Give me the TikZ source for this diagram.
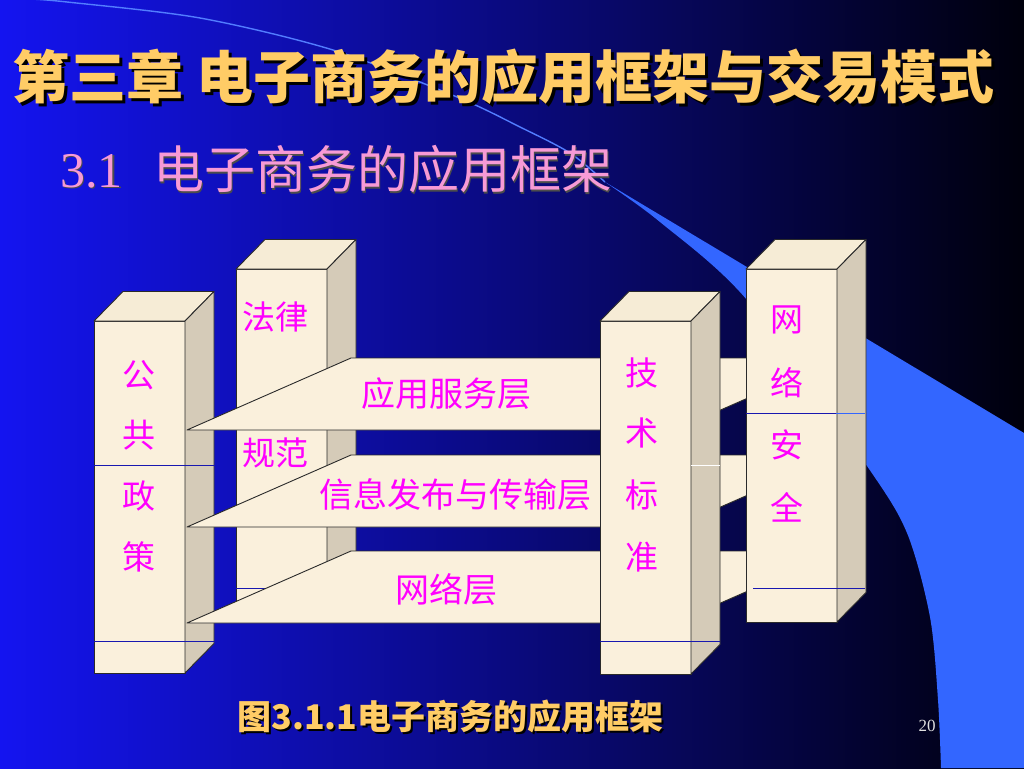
\documentclass[tikz,border=0pt]{standalone}
\usepackage{fontspec}
\setmainfont{Liberation Serif}
\newfontfamily\cjk{Noto Sans CJK SC}
\definecolor{bgL}{HTML}{1414F0}
\definecolor{bgM}{HTML}{0404B0}
\definecolor{bgR}{HTML}{00000C}
\definecolor{wedge}{HTML}{3366FF}
\definecolor{gold}{HTML}{FFCC66}
\definecolor{pinkt}{HTML}{F79AD6}
\definecolor{mag}{HTML}{FF00FF}
\definecolor{creamF}{HTML}{FAF0DC}
\definecolor{creamT}{HTML}{F6ECD6}
\definecolor{creamS}{HTML}{D5CBB8}
\definecolor{edge}{HTML}{2A2A2A}
\definecolor{lineblue}{HTML}{1818B0}
\newcommand{\shadowtext}[3]{\rlap{\hspace*{#2}\raisebox{-#2}{\textcolor{#1}{#3}}}#3}
\tikzset{
  frontface/.style={fill=creamF, draw=edge, line width=0.9pt, line join=round},
  topface/.style={fill=creamT, draw=edge, line width=0.9pt, line join=round},
  sideface/.style={fill=creamS, draw=edge, line width=0.9pt, line join=round},
  layerface/.style={fill=creamF, draw=edge, line width=0.9pt, line join=round},
  sepline/.style={draw=lineblue, line width=0.9pt},
  pillartxt/.style={text=mag, inner sep=0pt, font={\cjk\fontsize{33}{33}\selectfont}},
  layertxt/.style={text=mag, inner sep=0pt, font={\cjk\fontsize{34}{34}\selectfont}},
}
\newcommand{\pillarat}[3]{%
  \path[frontface] (#1,#2) rectangle ({#1+91},#3);
  \path[topface] (#1,#2) -- ({#1+29},{#2-29.5}) -- ({#1+120},{#2-29.5}) -- ({#1+91},#2) -- cycle;
  \path[sideface] ({#1+91},#2) -- ({#1+120},{#2-29.5}) -- ({#1+120},{#3-29.5}) -- ({#1+91},#3) -- cycle;
}
\newcommand{\layerat}[1]{%
  \path[layerface] (187,{#1+72}) -- (675,{#1+72}) -- (839,#1) -- (351,#1) -- cycle;
}
\begin{document}
\begin{tikzpicture}[x=1pt,y=-1pt]
\useasboundingbox (0,0) rectangle (1024,768);
% background
\shade[left color=bgL, middle color=bgM, right color=bgR] (0,0) rectangle (1024,768);
% light blue wedge and arc
\fill[wedge] (605,182) -- (1024,433) -- (1024,768) -- (941,768)
  -- plot[smooth] coordinates {(941,768) (938,700) (930,617) (907,533) (867,466) (747,300) (660,222) (605,182)} -- cycle;
\draw[wedge!85!white, line width=1.4pt] plot[smooth] coordinates {(30,-1) (67,2) (200,18) (333,50) (457,97) (520,127) (570,153) (605,182)};
% title
\node[text=gold, inner sep=0pt, font={\cjk\bfseries\fontsize{57}{57}\selectfont}] (title) at (503.5,78) {\shadowtext{black}{3pt}{第三章 电子商务的应用框架与交易模式}};
% subtitle
\node[text=pinkt, anchor=west, inner sep=0pt, font={\fontsize{50}{50}\selectfont}] (secnum) at (60,172) {\shadowtext{black!70}{1.5pt}{3.1}};
\node[text=pinkt, anchor=west, inner sep=0pt, font={\cjk\fontsize{51}{51}\selectfont}] (sectitle) at (153,170) {\shadowtext{black!70}{1.5pt}{电子商务的应用框架}};
% pillar 2 (laws)
\pillarat{236}{269}{620}
\draw[sepline] (236,588) -- (356,588);
\node[pillartxt] (law1) at (275,317) {法律};
\node[pillartxt] (law2) at (275,453) {规范};
% pillar 1 (public policy)
\pillarat{94}{321}{673}
\draw[sepline] (94,465) -- (215,465);
\draw[sepline] (94,641) -- (215,641);
\node[pillartxt] (p1a) at (139,375) {公};
\node[pillartxt] (p1b) at (139,435) {共};
\node[pillartxt] (p1c) at (139,496) {政};
\node[pillartxt] (p1d) at (139,557) {策};
% layers
\layerat{358}
\layerat{455}
\layerat{551}
\node[layertxt] (lay1) at (446,394) {应用服务层};
\node[layertxt] (lay2) at (455,495) {信息发布与传输层};
\node[layertxt] (lay3) at (446,590) {网络层};
% pillar 3 (technical standards)
\pillarat{600}{321}{674}
\draw[draw=white, line width=0.9pt] (691,465) -- (720,465);
\draw[sepline] (600,641) -- (720,641);
\node[pillartxt] (p3a) at (642,373) {技};
\node[pillartxt] (p3b) at (642,433) {术};
\node[pillartxt] (p3c) at (642,495) {标};
\node[pillartxt] (p3d) at (642,557) {准};
% pillar 4 (network security)
\pillarat{746}{269}{622}
\draw[sepline] (746,413) -- (836,413);
\draw[draw=wedge, line width=0.9pt] (836,413) -- (865,413);
\draw[sepline] (753,588) -- (865,588);
\node[pillartxt] (p4a) at (787,320) {网};
\node[pillartxt] (p4b) at (787,383) {络};
\node[pillartxt] (p4c) at (787,445) {安};
\node[pillartxt] (p4d) at (787,507) {全};
% caption
\node[text=gold, inner sep=0pt, font={\cjk\bfseries\fontsize{34}{34}\selectfont}] (caption) at (450.5,718) {\shadowtext{black}{2pt}{图3.1.1电子商务的应用框架}};
% page number
\node[text=white!88!black, inner sep=0pt, font={\fontsize{17}{17}\selectfont}] (pagenum) at (927,726) {20};
\end{tikzpicture}
\end{document}
